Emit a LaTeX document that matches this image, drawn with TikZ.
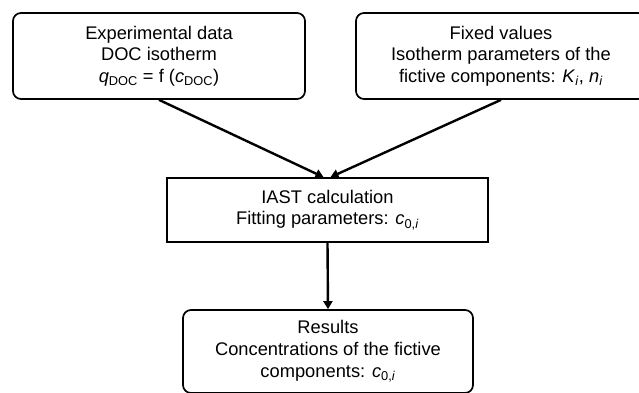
\documentclass[tikz,border=0pt]{standalone}
\usepackage{fontspec}
\setmainfont{Liberation Sans}
\usepackage{tikz}
\usetikzlibrary{arrows.meta}

\begin{document}
\begin{tikzpicture}[x=1pt,y=-1pt,
    every node/.style={font=\fontsize{18.3}{21.7}\selectfont,align=center},
    roundbox/.style={draw,line width=1.7pt,rounded corners=8pt,inner sep=0pt},
    squarebox/.style={draw,line width=1.7pt,inner sep=0pt},
    flowarrow/.style={line width=2.4pt,-{Triangle[length=8pt,width=9pt]}}]
  \useasboundingbox (0,0) rectangle (639,393);

  % input boxes
  \node[roundbox,minimum width=292pt,minimum height=86pt] (expbox) at (159,56)
    {Experimental data\\DOC isotherm\\\textit{q}\textsubscript{DOC} = f (\textit{c}\textsubscript{DOC})};
  \node[roundbox,minimum width=290pt,minimum height=86pt] (fixbox) at (501,56)
    {Fixed values\\Isotherm parameters of the\\fictive components: \textit{K}\textsubscript{\textit{i}}, \textit{n}\textsubscript{\textit{i}}};

  % calculation and result
  \node[squarebox,minimum width=321pt,minimum height=64pt] (iast) at (327.5,210)
    {IAST calculation\\Fitting parameters: \textit{c}\textsubscript{0,\textit{i}}};
  \node[roundbox,minimum width=290pt,minimum height=83pt] (result) at (328,351.5)
    {Results\\Concentrations of the fictive\\components: \textit{c}\textsubscript{0,\textit{i}}};

  \draw[flowarrow] (expbox.south) -- ([xshift=-4pt]iast.north);
  \draw[flowarrow] (fixbox.south) -- ([xshift=3pt]iast.north);
  \draw[flowarrow] (iast.south) -- (result.north);
\end{tikzpicture}
\end{document}
